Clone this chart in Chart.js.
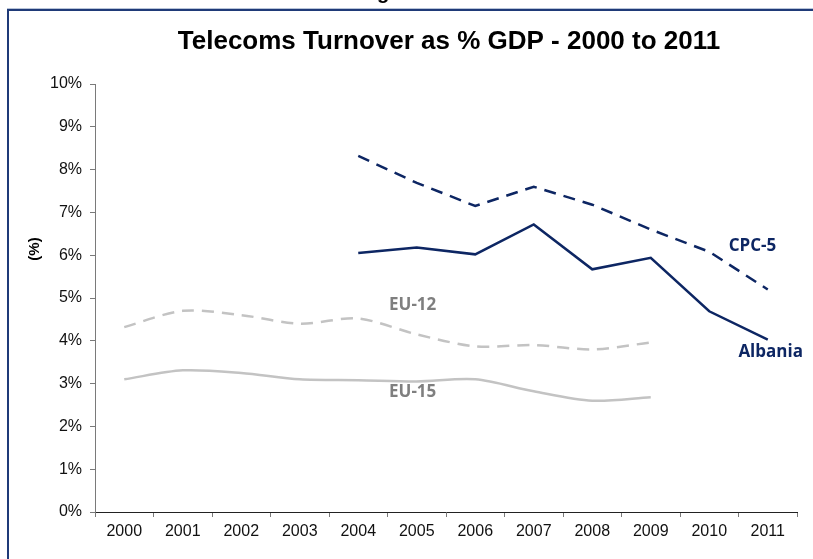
<!DOCTYPE html>
<html>
<head>
<meta charset="utf-8">
<script src="https://cdn.jsdelivr.net/npm/chart.js@4/dist/chart.umd.min.js"></script>
<style>
html,body{margin:0;padding:0;background:#fff;}
#wrap{position:relative;width:813px;height:559px;}
canvas{display:block;}
</style>
</head>
<body>
<div id="wrap"><canvas id="c" width="813" height="559"></canvas></div>
<script>
const years = ['2000','2001','2002','2003','2004','2005','2006','2007','2008','2009','2010','2011'];
const albania = [null,null,null,null,6.05,6.18,6.02,6.72,5.67,5.94,4.69,4.03];
const cpc5    = [null,null,null,null,8.32,7.69,7.15,7.60,7.18,6.60,6.08,5.20];
const eu12    = [4.32,4.70,4.60,4.40,4.52,4.15,3.87,3.90,3.80,3.96,null,null];
const eu15    = [3.10,3.31,3.25,3.10,3.08,3.05,3.10,2.82,2.60,2.68,null,null];
const yTicks  = [0,1,2,3,4,5,6,7,8,9,10];
const seriesLabels = [
  {text:'CPC-5',   xi:10.74, v:6.22, color:'#0d2663'},
  {text:'Albania', xi:11.05, v:3.74, color:'#0d2663'},
  {text:'EU-12',   xi:4.93,  v:4.84, color:'#7f7f7f'},
  {text:'EU-15',   xi:4.93,  v:2.80, color:'#7f7f7f'}
];
const titleText = 'Telecoms Turnover as % GDP - 2000 to 2011';
const figText = 'Figure 3-5';

const NAVY = '#0d2663';
const FONT = '"Liberation Sans", Arial, sans-serif';

const decor = {
  id:'decor',
  beforeDraw(chart){
    const ctx = chart.ctx;
    ctx.save();
    ctx.fillStyle='#fff';
    ctx.fillRect(0,0,chart.width,chart.height);
    // frame
    ctx.strokeStyle='#1f3a78';
    ctx.lineWidth=2;
    ctx.beginPath();
    ctx.moveTo(8,560);
    ctx.lineTo(8,10);
    ctx.lineTo(813,10);
    ctx.stroke();
    ctx.strokeStyle='#b8c4d8';
    ctx.lineWidth=1;
    ctx.beginPath();
    ctx.moveTo(7,8.5);ctx.lineTo(813,8.5);
    ctx.stroke();
    // figure caption (cut off at top)
    ctx.fillStyle='#000';
    ctx.font='bold 20px '+FONT;
    ctx.textAlign='center';
    ctx.textBaseline='alphabetic';
    ctx.fillText(figText, 407, -1.5);
    // title
    ctx.font='bold 26px '+FONT;
    ctx.textBaseline='middle';
    ctx.fillText(titleText, 449, 42);
    // y title
    ctx.save();
    ctx.translate(35, 249);
    ctx.rotate(-Math.PI/2);
    ctx.font='bold 15px '+FONT;
    ctx.fillText('(%)', 0, 0);
    ctx.restore();
    ctx.restore();
  },
  afterDatasetsDraw(chart){
    const ctx = chart.ctx;
    const xs = chart.scales.x, ys = chart.scales.y;
    ctx.save();
    ctx.font='bold 17px "Open Sans", Lato, sans-serif';
    ctx.textAlign='center';
    ctx.textBaseline='middle';
    seriesLabels.forEach(l=>{
      ctx.fillStyle=l.color;
      ctx.fillText(l.text, xs.getPixelForValue(l.xi), ys.getPixelForValue(l.v));
    });
    ctx.restore();
  }
};

new Chart(document.getElementById('c'), {
  type:'line',
  data:{
    labels:years,
    datasets:[
      {label:'Albania', data:albania, borderColor:NAVY, borderWidth:2.5, tension:0, pointRadius:0},
      {label:'CPC-5', data:cpc5, borderColor:NAVY, borderWidth:2.5, borderDash:[12,8], tension:0, pointRadius:0},
      {label:'EU-12', data:eu12, borderColor:'#c3c3c3', borderWidth:2.5, borderDash:[12,8], tension:0.3, pointRadius:0},
      {label:'EU-15', data:eu15, borderColor:'#c3c3c3', borderWidth:2.5, tension:0.3, pointRadius:0}
    ]
  },
  options:{
    responsive:false,
    animation:false,
    layout:{padding:{left:0,right:16,top:84,bottom:0}},
    plugins:{legend:{display:false}, title:{display:false}, tooltip:{enabled:false}},
    scales:{
      x:{
        offset:true,
        grid:{offset:true, drawOnChartArea:false, drawTicks:true, tickLength:5, color:'#7a7a7a'},
        border:{color:'#222', width:1},
        ticks:{color:'#111', font:{family:FONT, size:16}, padding:5, maxRotation:0, autoSkip:false},
        afterFit(s){ s.height = 47; }
      },
      y:{
        min:0, max:10,
        afterBuildTicks(s){ s.ticks = yTicks.map(v=>({value:v})); },
        grid:{drawOnChartArea:false, drawTicks:true, tickLength:5, color:'#7a7a7a'},
        border:{color:'#7a7a7a', width:1},
        ticks:{color:'#111', font:{family:FONT, size:16}, padding:8, callback:v=>v+'%'},
        afterFit(s){ s.width = 95; }
      }
    }
  },
  plugins:[decor]
});
</script>
</body>
</html>
